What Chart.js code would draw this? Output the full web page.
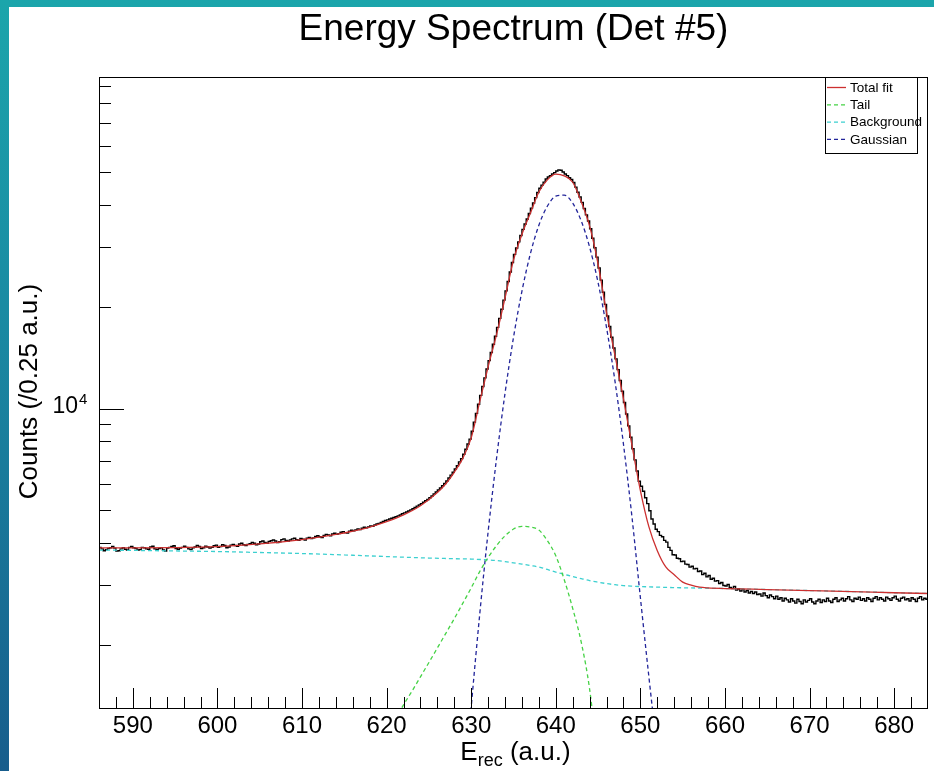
<!DOCTYPE html>
<html lang="en">
<head>
<meta charset="UTF-8">
<title>Energy Spectrum (Det #5)</title>
<script src="https://cdn.jsdelivr.net/npm/chart.js"></script>
<style>
    html, body { margin: 0; padding: 0; }
    body { width: 934px; height: 771px; overflow: hidden; position: relative;
           background: linear-gradient(to bottom, #1ba5ab 0%, #1a8ba3 40%, #175d8c 100%); }
    #panel { position: absolute; left: 9px; top: 7px; right: 0; bottom: 0; background: #fff; }
    #chart { position: absolute; left: 0; top: 0; }
</style>
</head>
<body>
<div id="panel"></div>
<canvas id="chart" width="934" height="771"></canvas>

<script>
    // histogram: 0.25 a.u. bins starting at 586
    const binStart = 586, binWidth = 0.25;
    const counts = [
        // 586 - 600
        3890, 3850, 3800, 3830, 3860, 3880, 3910, 3870,
        3790, 3800, 3850, 3880, 3840, 3820, 3890, 3910,
        3880, 3860, 3820, 3830, 3890, 3880, 3850, 3840,
        3900, 3920, 3850, 3830, 3860, 3880, 3820, 3790,
        3870, 3890, 3910, 3930, 3860, 3840, 3870, 3890,
        3920, 3890, 3850, 3830, 3880, 3900, 3940, 3910,
        3860, 3880, 3920, 3900, 3870, 3890, 3930, 3950,
        // 600 - 610
        3890, 3910, 3960, 3940, 3880, 3900, 3950, 3970,
        3940, 3920, 3980, 4000, 3960, 3940, 3970, 3990,
        4020, 4000, 3960, 3980, 4040, 4060, 4020, 4000,
        4050, 4070, 4090, 4060, 4020, 4040, 4100, 4120,
        4080, 4060, 4090, 4120, 4140, 4100, 4080, 4130,
        // 610 - 620
        4110, 4090, 4140, 4160, 4130, 4150, 4190, 4210,
        4180, 4160, 4220, 4250, 4230, 4210, 4260, 4280,
        4250, 4270, 4310, 4330, 4300, 4290, 4340, 4370,
        4350, 4380, 4410, 4390, 4430, 4460, 4440, 4470,
        4500, 4490, 4530, 4560, 4580, 4610, 4640, 4670,
        // 620 - 630
        4690, 4720, 4740, 4770, 4790, 4820, 4850, 4890,
        4920, 4950, 4980, 5020, 5060, 5100, 5150, 5190,
        5240, 5290, 5340, 5390, 5450, 5520, 5600, 5670,
        5750, 5830, 5920, 6010, 6110, 6240, 6360, 6490,
        6630, 6780, 6960, 7120, 7330, 7590, 7860, 8130,
        // 630 - 640
        8580, 9130, 9690, 10310, 10950, 11630, 12340, 13110,
        13880, 14670, 15510, 16390, 17400, 18510, 19700, 20960,
        22310, 23790, 25380, 27070, 28610, 29890, 31150, 32540,
        33920, 35190, 36430, 37800, 39220, 40590, 42120, 43600,
        44920, 45860, 46820, 47800, 48470, 48920, 49480, 49940,
        // 640 - 650
        50520, 50870, 50750, 50170, 49480, 48920, 48250, 47690,
        46720, 45230, 43700, 42310, 40780, 39130, 37450, 35930,
        34080, 31950, 29950, 28080, 26090, 24010, 22100, 20350,
        18810, 17520, 16270, 15120, 14040, 13050, 12120, 11260,
        10430, 9650, 8900, 8230, 7610, 7060, 6540, 6100,
        // 650 - 660
        5900, 5700, 5450, 5240, 4990, 4720, 4560, 4400,
        4330, 4220, 4180, 4080, 4030, 3890, 3810, 3700,
        3690, 3610, 3600, 3530, 3540, 3470, 3460, 3400,
        3420, 3360, 3370, 3300, 3310, 3230, 3260, 3180,
        3210, 3130, 3150, 3090, 3100, 3040, 3060, 3000,
        // 660 - 684
        2990, 3020, 2960, 2940, 2980, 2910, 2930, 2890,
        2920, 2870, 2900, 2850, 2880, 2840, 2870, 2820,
        2830, 2790, 2850, 2800, 2760, 2810, 2780, 2740,
        2790, 2730, 2760, 2700, 2750, 2720, 2680, 2740,
        2700, 2660, 2730, 2690, 2650, 2720, 2680, 2710,
        2740, 2680, 2650, 2700, 2730, 2670, 2720, 2690,
        2750, 2700, 2670, 2730, 2760, 2690, 2720, 2750,
        2700, 2740, 2780, 2720, 2690, 2750, 2730, 2770,
        2710, 2740, 2700, 2760, 2730, 2690, 2750, 2780,
        2720, 2760, 2730, 2700, 2770, 2740, 2710, 2760,
        2790, 2730, 2700, 2750, 2770, 2720, 2740, 2700,
        2760, 2730, 2690, 2750, 2780, 2720, 2750, 2730
    ];

    const totalFitX = [586, 590, 595, 600, 605, 610, 614, 618, 620, 622, 624, 626,
        627, 628, 629, 630, 631, 632, 633, 634, 635, 636, 637, 638, 639, 640, 641, 642,
        643, 644, 645, 646, 647, 648, 649, 650, 651, 652, 653, 654, 655, 656, 657, 658,
        660, 665, 670, 675, 680, 684];
    const totalFitY = [3873, 3873, 3880, 3908, 3980, 4102, 4246, 4467, 4634, 4853, 5164, 5649,
        5998, 6486, 7129, 8200, 10471, 13305, 16596, 21281, 27542, 32810, 37931, 43752, 47534, 49431, 48865, 46774,
        41020, 34674, 26792, 19231, 14355, 10691, 7798, 5728, 4477, 3802, 3404, 3228, 3069, 3006, 2965, 2950,
        2938, 2918, 2898, 2878, 2855, 2840];

    const tailX = [621, 622, 623, 624, 625, 626, 627, 628, 629, 630, 631, 632, 633,
        634, 635, 636, 637, 638, 639, 640, 641, 642, 643, 644, 645];
    const tailY = [1200, 1330, 1460, 1610, 1775, 1960, 2165, 2393, 2655, 2951, 3296, 3631, 3936,
        4207, 4406, 4487, 4467, 4375, 4074, 3673, 3119, 2564, 2042, 1479, 891];

    const bgX = [586, 590, 595, 600, 605, 610, 615, 620, 625, 628, 630, 632, 633, 634, 635,
        636, 637, 638, 639, 640, 641, 642, 643, 644, 645, 646, 647, 648, 649, 650,
        652, 655, 660, 665, 670, 675, 680, 684];
    const bgY = [3819, 3810, 3795, 3780, 3755, 3729, 3693, 3653, 3616, 3600, 3591, 3570, 3555, 3530, 3500,
        3471, 3437, 3401, 3345, 3287, 3238, 3188, 3143, 3101, 3068, 3038, 3016, 2997, 2986, 2978,
        2966, 2953, 2938, 2918, 2898, 2878, 2855, 2840];

    const gaussX = [629, 630, 631, 632, 633, 634, 635, 636, 637, 638, 639, 640,
        641, 642, 643, 644, 645, 646, 647, 648, 649, 650, 651, 652];
    const gaussY = [656, 1309, 2455, 4325, 7145, 11117, 16255, 22284, 28774, 34914, 39719, 42560,
        42855, 40551, 35975, 30061, 23605, 17378, 12050, 7852, 4797, 2761, 1614, 962];

    const xMajorTicks = [590, 600, 610, 620, 630, 640, 650, 660, 670, 680];
    const yTicks = [2000, 3000, 4000, 5000, 6000, 7000, 8000, 9000, 10000,
        20000, 30000, 40000, 50000, 60000, 70000, 80000, 90000];

    const FONT = "'Liberation Sans', Arial, Helvetica, sans-serif";

    function pairs(xs, ys) {
        return xs.map((x, i) => ({ x: x, y: ys[i] }));
    }

    // bin left edges + closing point so each count spans its whole bin
    const histData = counts.map((c, i) => ({ x: binStart + i * binWidth, y: c }));
    histData.push({ x: binStart + counts.length * binWidth, y: counts[counts.length - 1] });

    const datasets = [
        { label: 'Total fit', data: pairs(totalFitX, totalFitY), borderColor: '#cc3030',
          borderWidth: 1.3, cubicInterpolationMode: 'monotone' },
        { label: 'Tail', data: pairs(tailX, tailY), borderColor: '#45d245',
          borderWidth: 1.3, borderDash: [4, 3], cubicInterpolationMode: 'monotone' },
        { label: 'Background', data: pairs(bgX, bgY), borderColor: '#3cd0d0',
          borderWidth: 1.3, borderDash: [4, 3], cubicInterpolationMode: 'monotone' },
        { label: 'Gaussian', data: pairs(gaussX, gaussY), borderColor: '#22259a',
          borderWidth: 1.3, borderDash: [4, 3], cubicInterpolationMode: 'monotone' },
        { label: 'Data', data: histData, borderColor: '#000', borderWidth: 1.4, stepped: true }
    ];

    // frame, inner ticks, legend, titles
    const decorations = {
        id: 'decorations',
        afterDatasetsDraw(chart) {
            const { ctx, chartArea: a, scales: { x, y } } = chart;
            ctx.save();
            ctx.strokeStyle = '#000';
            ctx.lineWidth = 1;
            ctx.setLineDash([]);
            ctx.beginPath();
            for (let v = 588; v < 684; v += 2) {
                const px = Math.round(x.getPixelForValue(v)) + 0.5;
                const len = xMajorTicks.includes(v) ? 20 : 11;
                ctx.moveTo(px, a.bottom);
                ctx.lineTo(px, a.bottom - len);
            }
            yTicks.forEach(v => {
                const py = Math.round(y.getPixelForValue(v)) + 0.5;
                const len = v === 10000 ? 25 : 12;
                ctx.moveTo(a.left, py);
                ctx.lineTo(a.left + len, py);
            });
            ctx.stroke();
            ctx.strokeRect(Math.round(a.left) + 0.5, Math.round(a.top) + 0.5,
                Math.round(a.right - a.left) - 1, Math.round(a.bottom - a.top));

            // legend box
            const lx = 825, ly = Math.round(a.top) + 0.5, lw = 92, lh = 76;
            ctx.fillStyle = '#fff';
            ctx.fillRect(lx, ly, lw, lh);
            ctx.strokeRect(lx + 0.5, ly, lw, lh);
            ctx.font = '13.5px ' + FONT;
            ctx.textBaseline = 'middle';
            ctx.textAlign = 'left';
            chart.data.datasets.slice(0, 4).forEach((ds, i) => {
                const ry = ly + 10 + i * 17.3;
                ctx.strokeStyle = ds.borderColor;
                ctx.lineWidth = 1.3;
                ctx.setLineDash(ds.borderDash || []);
                ctx.beginPath();
                ctx.moveTo(lx + 2, ry);
                ctx.lineTo(lx + 21, ry);
                ctx.stroke();
                ctx.fillStyle = '#000';
                ctx.fillText(ds.label, lx + 25, ry + 0.5);
            });
            ctx.setLineDash([]);

            // title
            const cx = (a.left + a.right) / 2;
            ctx.fillStyle = '#000';
            ctx.textBaseline = 'alphabetic';
            ctx.textAlign = 'center';
            ctx.font = '37px ' + FONT;
            ctx.fillText('Energy Spectrum (Det #5)', cx, 40);

            // y title
            ctx.save();
            ctx.translate(37, (a.top + a.bottom) / 2 - 1);
            ctx.rotate(-Math.PI / 2);
            ctx.font = '26px ' + FONT;
            ctx.fillText('Counts (/0.25 a.u.)', 0, 0);
            ctx.restore();

            // x title with subscript
            ctx.textAlign = 'left';
            const big = '26px ' + FONT, small = '18px ' + FONT;
            ctx.font = big; const wE = ctx.measureText('E').width;
            ctx.font = small; const wSub = ctx.measureText('rec').width;
            ctx.font = big; const wRest = ctx.measureText(' (a.u.)').width;
            let tx = cx + 2 - (wE + wSub + wRest) / 2;
            ctx.font = big; ctx.fillText('E', tx, 760); tx += wE;
            ctx.font = small; ctx.fillText('rec', tx, 766); tx += wSub;
            ctx.font = big; ctx.fillText(' (a.u.)', tx, 760);

            // 10^4 label
            const p4 = y.getPixelForValue(10000);
            ctx.textAlign = 'right';
            ctx.font = '23px ' + FONT;
            ctx.fillText('10', 78, p4 + 4);
            ctx.textAlign = 'left';
            ctx.font = '15px ' + FONT;
            ctx.fillText('4', 79, p4 - 5);
            ctx.restore();
        }
    };

    new Chart(document.getElementById('chart'), {
        type: 'line',
        data: { datasets: datasets },
        options: {
            responsive: false,
            animation: false,
            events: [],
            layout: { padding: { top: 77, right: 6, left: 0, bottom: 0 } },
            elements: { point: { radius: 0 }, line: { tension: 0 } },
            scales: {
                x: {
                    type: 'linear', min: 586, max: 684,
                    grid: { display: false, drawTicks: false },
                    border: { display: false },
                    ticks: { stepSize: 10, padding: 4, color: '#000', font: { family: FONT, size: 24 } },
                    afterBuildTicks: s => { s.ticks = xMajorTicks.map(v => ({ value: v })); },
                    afterFit: s => { s.height = 63; }
                },
                y: {
                    type: 'logarithmic', min: 1302, max: 95800,
                    grid: { display: false, drawTicks: false },
                    border: { display: false },
                    ticks: { display: false },
                    afterBuildTicks: s => { s.ticks = yTicks.map(v => ({ value: v })); },
                    afterFit: s => { s.width = 99; }
                }
            },
            plugins: {
                legend: { display: false },
                title: { display: false },
                tooltip: { enabled: false }
            }
        },
        plugins: [decorations]
    });
</script>
</body>
</html>
